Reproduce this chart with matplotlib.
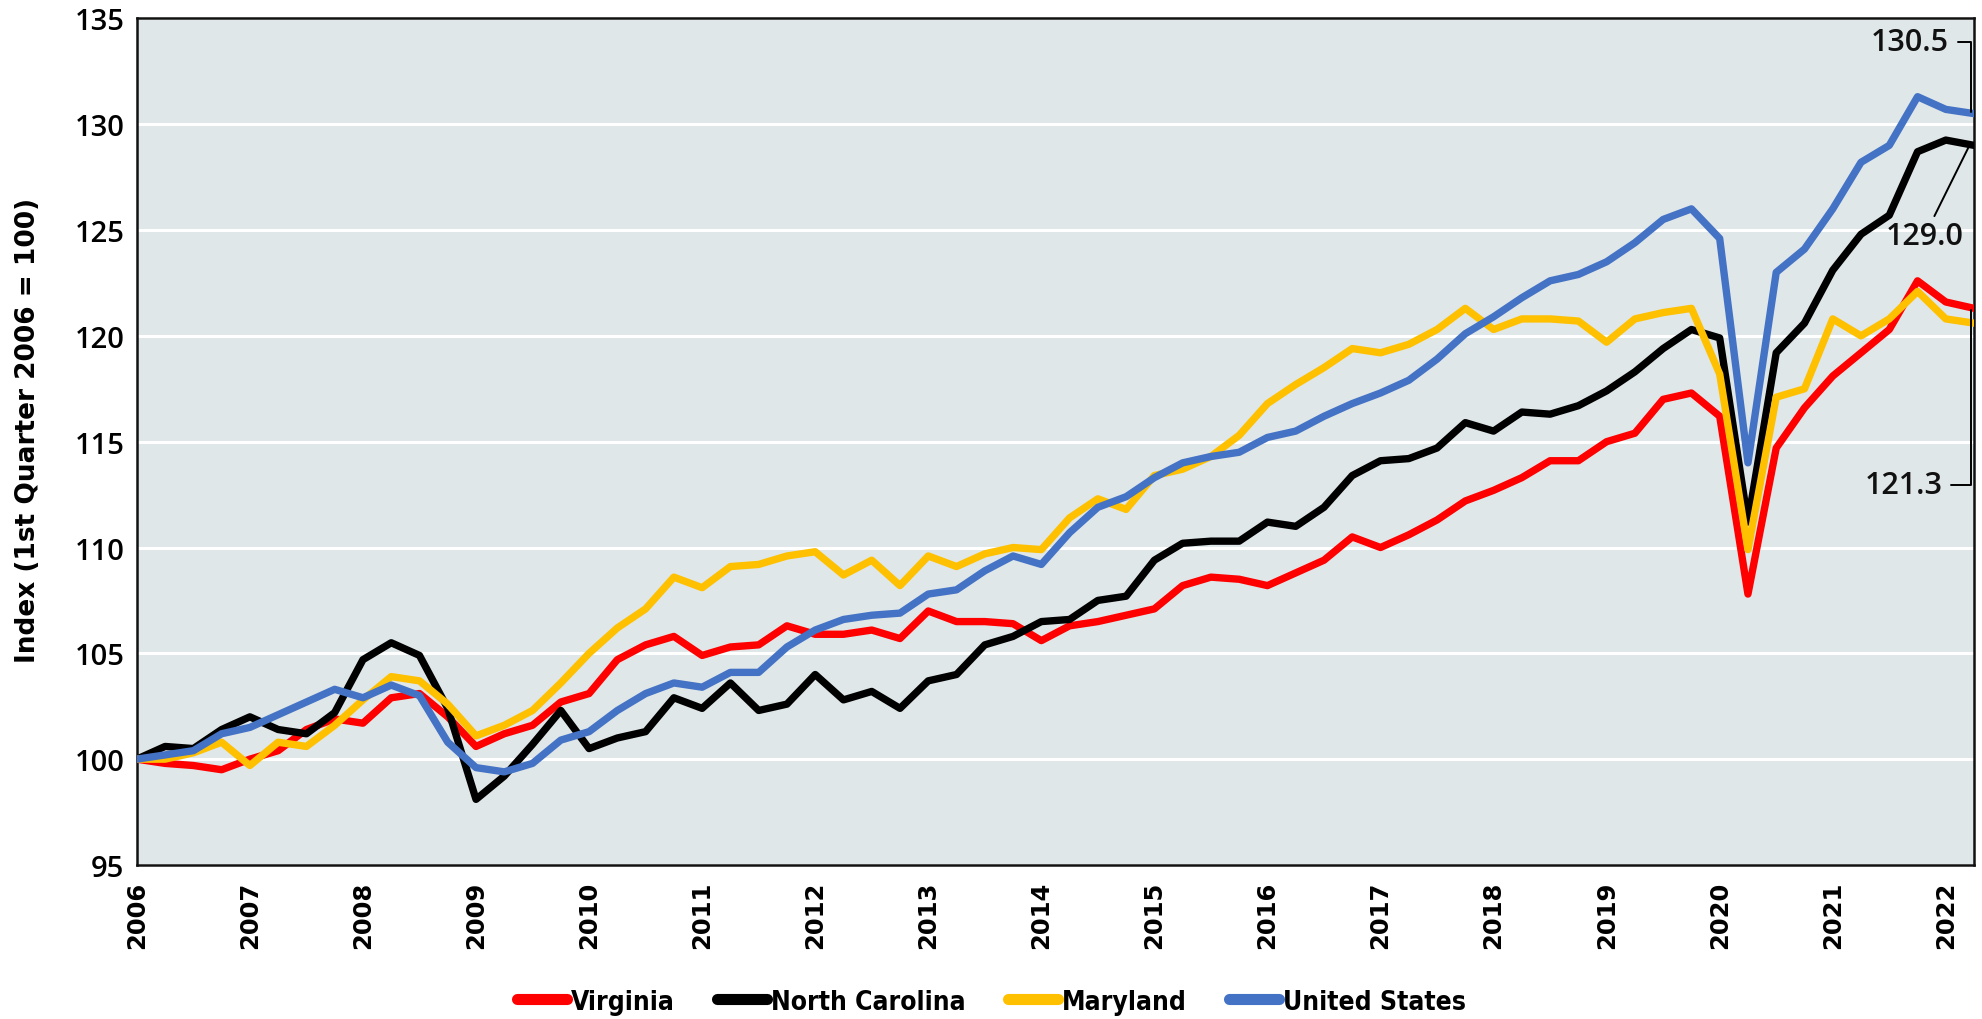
import matplotlib
matplotlib.use("Agg")
import matplotlib.pyplot as plt
import numpy as np

# ---------------- data ----------------
years = [2006 + q * 0.25 for q in range(66)]  # 2006 Q1 .. 2022 Q2
year_ticks = list(range(2006, 2023))
y_ticks = [95, 100, 105, 110, 115, 120, 125, 130, 135]

virginia = [100.0, 99.8, 99.7, 99.5, 100.0, 100.4, 101.4, 101.9,
            101.7, 102.9, 103.1, 102.0, 100.6, 101.2, 101.6, 102.7,
            103.1, 104.7, 105.4, 105.8, 104.9, 105.3, 105.4, 106.3,
            105.9, 105.9, 106.1, 105.7, 107.0, 106.5, 106.5, 106.4,
            105.6, 106.3, 106.5, 106.8, 107.1, 108.2, 108.6, 108.5,
            108.2, 108.8, 109.4, 110.5, 110.0, 110.6, 111.3, 112.2,
            112.7, 113.3, 114.1, 114.1, 115.0, 115.4, 117.0, 117.3,
            116.2, 107.8, 114.7, 116.6, 118.1, 119.2, 120.3, 122.6,
            121.6, 121.3]
north_carolina = [100.0, 100.6, 100.5, 101.4, 102.0, 101.4, 101.2, 102.2,
                  104.7, 105.5, 104.9, 102.4, 98.1, 99.2, 100.7, 102.3,
                  100.5, 101.0, 101.3, 102.9, 102.4, 103.6, 102.3, 102.6,
                  104.0, 102.8, 103.2, 102.4, 103.7, 104.0, 105.4, 105.8,
                  106.5, 106.6, 107.5, 107.7, 109.4, 110.2, 110.3, 110.3,
                  111.2, 111.0, 111.9, 113.4, 114.1, 114.2, 114.7, 115.9,
                  115.5, 116.4, 116.3, 116.7, 117.4, 118.3, 119.4, 120.3,
                  119.9, 111.2, 119.2, 120.6, 123.1, 124.8, 125.7, 128.7,
                  129.25, 129.0]
maryland = [100.0, 100.0, 100.3, 100.8, 99.7, 100.8, 100.6, 101.6,
            102.8, 103.9, 103.7, 102.6, 101.1, 101.6, 102.3, 103.6,
            105.0, 106.2, 107.1, 108.6, 108.1, 109.1, 109.2, 109.6,
            109.8, 108.7, 109.4, 108.2, 109.6, 109.1, 109.7, 110.0,
            109.9, 111.4, 112.3, 111.8, 113.4, 113.7, 114.3, 115.3,
            116.8, 117.7, 118.5, 119.4, 119.2, 119.6, 120.3, 121.3,
            120.3, 120.8, 120.8, 120.7, 119.7, 120.8, 121.1, 121.3,
            118.2, 109.9, 117.1, 117.5, 120.8, 120.0, 120.8, 122.1,
            120.8, 120.6]
united_states = [100.0, 100.2, 100.4, 101.2, 101.5, 102.1, 102.7, 103.3,
                 102.9, 103.5, 103.0, 100.8, 99.6, 99.4, 99.8, 100.9,
                 101.3, 102.3, 103.1, 103.6, 103.4, 104.1, 104.1, 105.3,
                 106.1, 106.6, 106.8, 106.9, 107.8, 108.0, 108.9, 109.6,
                 109.2, 110.7, 111.9, 112.4, 113.3, 114.0, 114.3, 114.5,
                 115.2, 115.5, 116.2, 116.8, 117.3, 117.9, 118.9, 120.1,
                 120.9, 121.8, 122.6, 122.9, 123.5, 124.4, 125.5, 126.0,
                 124.6, 114.0, 123.0, 124.1, 126.0, 128.2, 129.0, 131.3,
                 130.7, 130.5]

series_names = ["Virginia", "North Carolina", "Maryland", "United States"]
series_colors = ["#FF0000", "#000000", "#FFC000", "#4472C4"]
series_values = [virginia, north_carolina, maryland, united_states]

# ---------------- figure ----------------
fig = plt.figure(figsize=(19.83, 10.20), dpi=100)
ax = fig.add_axes([0.069, 0.151, 0.9265, 0.830])
ax.set_facecolor("#DFE7E9")

for name, col, vals in zip(series_names, series_colors, series_values):
    ax.plot(years, vals, color=col, lw=5.3, label=name,
            solid_joinstyle="round", solid_capstyle="round", zorder=3)

ax.set_xlim(2006, 2022.25)
ax.set_ylim(95, 135)
ax.set_yticks(y_ticks)
ax.set_xticks(year_ticks)
ax.set_yticklabels([str(t) for t in y_ticks], fontsize=21,
                   family=["Open Sans", "DejaVu Sans"], fontweight="semibold")
ax.set_xticklabels([str(t) for t in year_ticks], rotation=90, fontsize=17.5,
                   family=["DejaVu Sans"], fontweight="bold")
ax.tick_params(axis="both", length=0)
ax.tick_params(axis="y", pad=9)
ax.tick_params(axis="x", pad=11)
ax.grid(axis="y", color="white", lw=2.2, zorder=1)
ax.set_axisbelow(True)
for sp in ax.spines.values():
    sp.set_color("#111111")
    sp.set_linewidth(1.8)

ax.set_ylabel("Index (1st Quarter 2006 = 100)", fontsize=19, fontweight="bold",
              family=["DejaVu Sans"], labelpad=12)
ax.yaxis.set_label_coords(-0.052, 0.515)

# ---------------- end-value annotations ----------------
ann_font = dict(fontsize=22, fontweight="semibold", family=["Open Sans", "DejaVu Sans"],
                color="#111111")
xe = years[-1]
ax.annotate(f"{united_states[-1]:.1f}", xy=(xe - 0.03, united_states[-1] + 0.1),
            xytext=(2022.03, 133.9), ha="right", va="center",
            arrowprops=dict(arrowstyle="-", color="black", lw=1.4,
                            connectionstyle="angle,angleA=0,angleB=90,rad=0",
                            shrinkA=4, shrinkB=0), **ann_font)
ax.annotate(f"{north_carolina[-1]:.1f}", xy=(xe - 0.05, north_carolina[-1] - 0.1),
            xytext=(2021.81, 124.7), ha="center", va="center",
            arrowprops=dict(arrowstyle="-", color="black", lw=1.4,
                            shrinkA=2, shrinkB=0), **ann_font)
ax.annotate(f"{virginia[-1]:.1f}", xy=(xe - 0.03, virginia[-1] - 0.1),
            xytext=(2021.97, 112.95), ha="right", va="center",
            arrowprops=dict(arrowstyle="-", color="black", lw=1.4,
                            connectionstyle="angle,angleA=0,angleB=90,rad=0",
                            shrinkA=4, shrinkB=0), **ann_font)

# ---------------- legend ----------------
leg = fig.legend(loc="center", bbox_to_anchor=(0.5, 0.017), ncol=4, frameon=False,
                 handlelength=1.9, handletextpad=0.15, columnspacing=1.6,
                 prop=dict(family="DejaVu Sans", stretch="condensed",
                           weight="bold", size=19))
for h in leg.get_lines():
    h.set_linewidth(8)
    h.set_solid_capstyle("round")

fig.savefig("out.png", dpi=100)
